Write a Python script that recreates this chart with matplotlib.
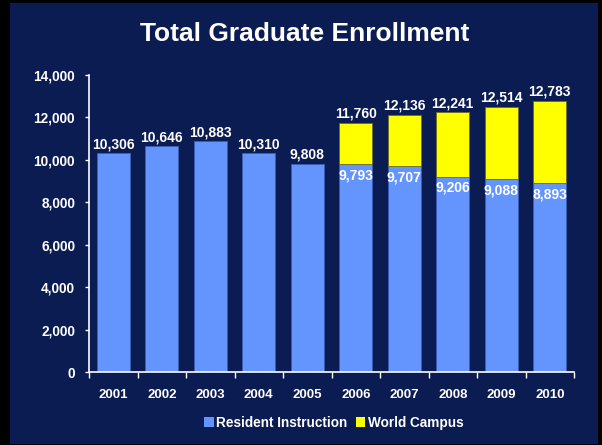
import matplotlib
matplotlib.use("Agg")
import matplotlib.pyplot as plt
from matplotlib.patches import Rectangle, Patch
import numpy as np

years = ["2001", "2002", "2003", "2004", "2005", "2006", "2007", "2008", "2009", "2010"]
resident = [10306, 10646, 10883, 10310, 9808, 9793, 9707, 9206, 9088, 8893]
totals = [None, None, None, None, None, 11760, 12136, 12241, 12514, 12783]

NAVY = "#0A1C52"
BLUE = "#6495FF"
YELLOW = "#FFFF00"

plt.rcParams['font.family'] = ['Liberation Sans', 'DejaVu Sans']
plt.rcParams['font.weight'] = 'bold'

fig = plt.figure(figsize=(6.02, 4.45), dpi=100)
fig.patch.set_facecolor("black")
fig.patches.append(Rectangle((10/602, 1/445), 588/602, 441/445, transform=fig.transFigure,
                             facecolor=NAVY, edgecolor="none", zorder=-10))

ax = fig.add_axes([89/602, (445-372)/445, (574-89)/602, (372-75)/445])
ax.set_facecolor("none")
ax.set_zorder(5)

x = np.arange(len(years))
w = 0.68
ax.bar(x, resident, width=w, color=BLUE, edgecolor="#3A5DB8", linewidth=0.6, zorder=2)
wc_idx = [i for i in range(len(years)) if totals[i] is not None]
wc_x = [x[i] for i in wc_idx]
wc_h = [totals[i] - resident[i] for i in wc_idx]
wc_b = [resident[i] for i in wc_idx]
ax.bar(wc_x, wc_h, bottom=wc_b, width=w, color=YELLOW, edgecolor="#6B6B20", linewidth=0.6, zorder=2)

FS = 10
for i in range(len(years)):
    if totals[i] is None:
        ax.annotate(f"{resident[i]:,}", (x[i], resident[i]), xytext=(0, 1.5), textcoords="offset points",
                    ha="center", va="bottom", color="white", fontsize=FS, fontweight="bold")
    else:
        ax.annotate(f"{totals[i]:,}", (x[i], totals[i]), xytext=(0, 1.5), textcoords="offset points",
                    ha="center", va="bottom", color="white", fontsize=FS, fontweight="bold")
        ax.annotate(f"{resident[i]:,}", (x[i], resident[i]), xytext=(0, -3), textcoords="offset points",
                    ha="center", va="top", color="white", fontsize=FS, fontweight="bold")

ax.set_xlim(-0.5, len(years) - 0.5)
ax.set_ylim(0, 14000)
ax.set_yticks(np.arange(0, 14001, 2000))
ax.set_yticklabels([f"{v:,}" for v in range(0, 14001, 2000)])
ax.set_xticks(x)
ax.set_xticklabels(years)
ax.set_xticks(np.arange(-0.5, len(years), 1.0), minor=True)

for s in ["top", "right"]:
    ax.spines[s].set_visible(False)
for s in ["left", "bottom"]:
    ax.spines[s].set_color("white")
    ax.spines[s].set_linewidth(1.2)

ax.tick_params(axis="y", colors="white", labelsize=9.8, length=3, width=1, pad=7, direction="out")
ax.tick_params(axis="x", which="major", colors="white", labelsize=9.5, length=0, pad=12)
ax.tick_params(axis="x", which="minor", colors="white", length=4, width=1, direction="out")
for lab in ax.get_yticklabels() + ax.get_xticklabels():
    lab.set_fontweight("bold")

fig.text(305/602, (445-34)/445, "Total Graduate Enrollment", ha="center", va="center",
         color="white", fontsize=19, fontweight="bold")

handles = [Patch(facecolor=BLUE, edgecolor="none"), Patch(facecolor=YELLOW, edgecolor="none")]
leg = fig.legend(handles, ["Resident Instruction", "World Campus"], loc="center",
                 bbox_to_anchor=(334/602, (445-423)/445), ncol=2, frameon=False,
                 handlelength=0.7, handleheight=0.7, handletextpad=0.2, columnspacing=0.6,
                 fontsize=9.8)
for t in leg.get_texts():
    t.set_color("white")
    t.set_fontweight("bold")

fig.savefig("out.png", dpi=100, facecolor=fig.get_facecolor())
